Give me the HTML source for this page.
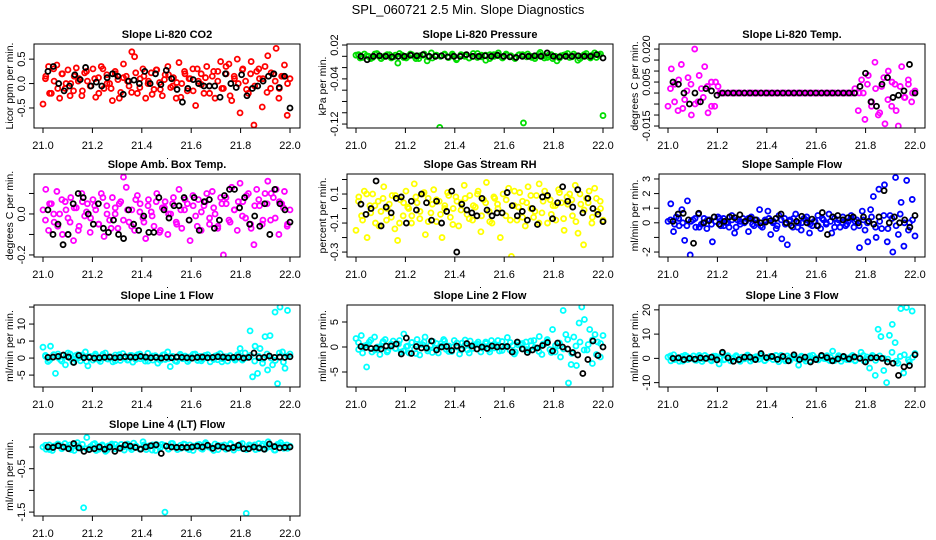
<!DOCTYPE html>
<html><head><meta charset="utf-8"><style>
html,body{margin:0;padding:0;background:#fff;}
svg{display:block;font-family:"Liberation Sans",Arial,sans-serif;}
</style></head><body>
<svg id="chart" width="936" height="540" viewBox="0 0 936 540">
<rect x="0" y="0" width="936" height="540" fill="#fff"/>
<text x="468" y="14" text-anchor="middle" font-size="13">SPL_060721  2.5 Min. Slope Diagnostics</text>
</svg>
<script>
const xTicks=[21.0,21.2,21.4,21.6,21.8,22.0];
const xTickLabels=["21.0","21.2","21.4","21.6","21.8","22.0"];
const titles=["Slope Li-820 CO2","Slope Li-820 Pressure","Slope Li-820 Temp.","Slope Amb. Box Temp.","Slope Gas Stream RH","Slope Sample Flow","Slope Line 1 Flow","Slope Line 2 Flow","Slope Line 3 Flow","Slope Line 4 (LT) Flow"];
const yTitles=["Licor ppm per min.","kPa per min.","degrees C per min.","degrees C per min.","percent per min.","ml/min per min.","ml/min per min.","ml/min per min.","ml/min per min.","ml/min per min."];
const yDomains=[[-0.91,0.81],[-0.127,0.0218],[-0.0159,0.0223],[-0.21,0.195],[-0.334,0.238],[-2.34,3.34],[-8.5,15.6],[-8.0,8.4],[-11.8,22],[-1.59,0.3]];
const yTicks=[[-0.5,0,0.5],[0.02,0,-0.02,-0.04,-0.06,-0.08,-0.1,-0.12],[0.02,0.015,0.01,0.005,0,-0.005,-0.01,-0.015],[0.1,0,-0.1,-0.2],[0.2,0.1,0,-0.1,-0.2,-0.3],[3,2,1,0,-1,-2],[15,10,5,0,-5],[5,0,-5],[20,10,0,-10],[0,-0.5,-1,-1.5]];
const yTickLabels=[["-0.5","0.0","0.5"],["0.02","","","-0.04","","","","-0.12"],["0.020","","","0.005","","","","-0.015"],["","0.0","","-0.2"],["","0.1","","-0.1","","-0.3"],["3","2","1","0","","-2"],["","10","5","0","-5"],["5","0","-5"],["20","10","0","-10"],["","-0.5","","-1.5"]];
const colors=["#ff0000","#00dd00","#ff00ff","#ff00ff","#ffff00","#0000ff","#00ffff","#00ffff","#00ffff","#00ffff"];
const p1Main=[-0.42,0.15,0.35,-0.2,0.05,0.38,-0.3,0.2,-0.1,0.28,0.0,-0.15,0.32,0.1,-0.25,0.22,0.05,-0.05,0.3,-0.28,0.12,0.35,-0.1,0.18,0.0,-0.35,0.25,0.08,-0.18,0.4,0.15,-0.05,0.65,0.55,-0.2,0.1,0.3,-0.3,0.05,0.22,-0.12,0.28,0.02,-0.25,0.18,0.35,-0.08,0.12,-0.3,0.43,0.0,0.25,-0.15,0.1,0.3,-0.45,0.05,0.2,-0.2,0.35,-0.05,0.15,-0.3,0.25,0.45,-0.1,0.2,0.4,-0.35,0.1,0.5,-0.6,0.3,0.05,-0.2,0.45,-0.85,0.25,0.1,-0.48,0.35,0.57,-0.1,0.2,0.72,-0.3,0.15,0.38,-0.65,0.1];
const p1Extra=[0.1,-0.2,0.3,-0.1,0.2,0.0,-0.25,0.15,0.05,-0.15,0.25,-0.05,0.1,-0.2,0.3,0.0,-0.1,0.2,-0.3,0.12,0.05,-0.18,0.22,-0.08,0.15,0.0,-0.22,0.28,-0.12,0.08,0.18,-0.05,0.02,-0.28,0.2,0.1,-0.15,0.3,-0.02,0.12,-0.2,0.25,0.05,-0.1,0.35,-0.25,0.15,0.0,0.28,-0.12,0.2,-0.05,0.3,0.1,-0.18,0.22,0.05,-0.1,0.15,0.0];
const p1Black=[0.25,0.35,0.0,-0.15,-0.05,0.18,0.08,0.33,-0.05,0.03,-0.05,0.12,0.2,0.15,-0.22,0.05,0.07,0.0,0.25,0.0,0.2,-0.02,0.27,0.1,-0.12,-0.38,-0.1,0.08,0.0,-0.05,-0.05,-0.05,-0.28,0.2,0.0,-0.08,0.18,-0.25,-0.1,-0.05,0.05,0.15,0.2,-0.08,0.15,-0.5];
const p2Main=[0.002,-0.003,0.004,0.0,-0.002,0.005,-0.004,0.001,0.003,-0.001,-0.012,0.002,-0.003,0.004,0.0,-0.004,0.002,-0.008,0.006,0.001,-0.126,0.003,-0.002,0.004,-0.006,0.001,0.0,-0.003,0.005,-0.002,0.002,-0.007,0.003,0.0,0.006,-0.003,0.002,0.001,-0.004,0.003,-0.118,0.004,-0.002,0.0,0.007,-0.003,0.002,-0.004,-0.008,0.001,0.003,-0.002,0.004,-0.007,0.0,0.005,-0.003,0.006,0.002,-0.105];
const p2Extra=[0.003,-0.002,0.001,-0.004,0.004,0.0,-0.001,0.003,-0.003,0.002,0.005,-0.002,0.0,0.003,-0.004,0.001,0.004,-0.001,-0.003,0.002,0.0,0.004,-0.002,0.001,-0.004,0.003,0.002,-0.003,0.0,0.005,-0.001,0.002,-0.004,0.003,0.001,-0.002,0.004,0.0,-0.003,0.002,0.003,-0.001,0.0,-0.004,0.004,0.001,-0.002,0.003,0.0,-0.003,0.002,0.005,-0.001,0.001,-0.004,0.003,0.0,0.002,-0.002,0.004];
const p2Black=[0.0,-0.006,0.0,0.001,0.0,-0.001,0.0,0.0,0.002,0.001,0.003,0.0,0.0,0.001,-0.001,0.0,0.0,0.003,0.0,0.0,0.001,0.0,0.002,0.0,-0.001,-0.002,0.0,0.0,0.001,0.0,0.006,0.0,-0.001,0.0,0.0,0.001,0.0,0.0,0.003,-0.003];
const p3Main=[-0.006,0.011,0.004,-0.008,0.013,-0.003,0.007,-0.010,0.020,-0.004,0.002,0.012,-0.009,0.005,-0.006,0.003,0,0,0,0,0,0,0,0,0,0,0,0,0,0,0,0,0,0,0,0,0,0,0,0,0,0,0,0,0,0,0,0,0,0,0,0,0,0,0,0,0.002,-0.008,0.006,-0.012,0.008,-0.004,0.014,-0.010,0.003,-0.014,0.010,-0.006,0.004,-0.015,0.012,-0.002,0.006,-0.004,0.001];
const p3Extra=[0.002,-0.004,0.006,-0.007,0.001,0.004,-0.005,0.008,-0.002,0.003,-0.006,0.005,0,0,0,0,0,0,0,0,0,0,0,0,0,0,0,0,0,0,0,0,0,0,0,0,0,0,0,0,0,0,0,0,0,0,0,0,0.004,-0.006,0.002,-0.009,0.007,-0.003,0.005,-0.008,0.003,-0.002,0.004,0.0];
const p3Black=[0.005,0.004,0.0,-0.005,0.0,-0.004,0.002,0.001,-0.001,0,0,0,0,0,0,0,0,0,0,0,0,0,0,0,0,0,0,0,0,0,0,0,0,0,0.003,0.009,-0.004,-0.006,0.004,0.007,-0.002,-0.001,0.001,0.013,0.0];
const p4Main=[0.02,0.12,-0.08,0.05,-0.04,0.11,0.0,-0.1,0.06,-0.02,0.08,-0.13,0.03,-0.06,0.1,-0.01,0.05,-0.09,0.07,0.02,-0.05,0.1,-0.11,0.04,-0.03,0.08,0.0,-0.07,0.06,0.18,0.13,-0.04,0.02,-0.08,0.09,0.05,-0.02,-0.12,0.07,0.01,-0.06,0.1,-0.09,0.03,0.06,-0.1,0.0,0.08,-0.04,0.12,-0.07,0.02,0.05,-0.13,0.09,-0.01,0.07,-0.08,0.04,0.1,-0.05,0.11,0.0,-0.06,0.08,-0.2,0.05,-0.03,0.13,0.02,-0.08,0.15,0.06,-0.02,0.1,-0.07,-0.15,0.12,0.04,-0.05,0.1,0.16,-0.03,0.08,0.12,-0.1,0.05,0.11,-0.06,0.02];
const p4Extra=[-0.03,0.05,0.0,-0.06,0.07,0.02,-0.04,0.03,-0.08,0.06,0.01,-0.02,0.04,-0.05,0.08,0.0,-0.07,0.03,0.05,-0.03,0.02,-0.06,0.07,0.01,-0.04,0.04,-0.01,0.06,-0.08,0.03,0.0,0.05,-0.05,0.02,0.07,-0.03,0.04,-0.06,0.01,0.06,-0.02,0.03,-0.07,0.05,0.08,-0.04,0.02,0.06,-0.01,0.09,-0.05,0.04,0.07,-0.03,0.05,0.1,-0.02,0.06,0.03,-0.05];
const p4Black=[0.02,-0.1,-0.05,-0.15,-0.1,0.05,0.1,0.08,0.0,-0.05,0.05,-0.07,-0.09,-0.03,-0.1,-0.12,0.02,-0.05,-0.08,-0.01,-0.09,-0.09,0.08,0.02,-0.02,0.04,0.04,0.08,-0.03,0.08,-0.08,0.06,0.07,-0.07,-0.03,0.09,0.12,0.12,0.03,0.08,-0.05,-0.01,-0.06,0.05,-0.1,0.12,0.05,0.02,-0.04];
const p5Main=[-0.15,0.08,-0.05,0.12,-0.2,0.02,0.1,-0.1,0.05,-0.02,0.15,-0.08,0.03,0.09,-0.14,-0.22,0.06,-0.05,0.12,0.0,-0.1,0.17,0.04,-0.07,0.1,-0.18,0.07,-0.03,0.13,-0.09,0.05,-0.2,0.02,0.11,-0.06,0.0,0.08,-0.12,0.04,0.16,-0.04,0.09,-0.08,0.01,0.12,-0.16,0.06,0.18,-0.02,-0.1,0.07,0.03,-0.2,0.1,-0.05,0.14,-0.33,0.02,-0.08,0.11,0.05,-0.12,0.15,0.0,-0.06,0.09,0.17,-0.03,0.12,-0.1,0.06,0.02,-0.08,0.13,0.04,-0.15,0.08,0.1,-0.05,0.16,-0.17,0.03,-0.25,0.07,0.12,-0.1,0.14,-0.02,0.05,-0.08];
const p5Extra=[0.05,-0.08,0.1,-0.03,0.02,-0.12,0.07,0.0,-0.06,0.09,-0.1,0.04,0.01,-0.05,0.08,-0.02,0.11,-0.09,0.03,0.06,-0.04,0.0,0.09,-0.11,0.05,-0.01,0.07,-0.07,0.02,0.1,-0.05,0.04,-0.09,0.08,0.0,-0.03,0.06,-0.08,0.12,0.01,-0.06,0.04,0.09,-0.02,-0.1,0.05,0.08,-0.04,0.02,0.11,-0.07,0.03,0.06,-0.09,0.1,-0.01,0.04,-0.06,0.07,0.0];
const p5Black=[0.03,-0.04,0.0,0.19,-0.12,0.01,-0.03,0.07,0.08,-0.1,0.05,-0.01,0.1,0.04,-0.08,0.05,-0.1,-0.02,0.12,-0.3,0.03,-0.01,-0.03,-0.05,0.07,-0.01,-0.05,-0.03,-0.03,0.11,0.02,-0.05,-0.02,-0.08,0.0,-0.11,0.08,0.09,-0.07,0.04,0.15,0.05,0.01,0.13,-0.03,0.07,0.0,-0.04,-0.09];
const p6Main=[0.1,1.3,-0.6,0.4,-0.2,0.9,-1.2,1.5,-2.2,0.2,-0.3,0.6,-0.1,0.3,-0.4,0.2,-1.3,0.1,0.4,-0.2,0.3,0.0,-0.3,0.5,-0.7,0.2,-0.1,0.3,0.1,-0.6,0.4,-0.2,0.0,0.9,-0.3,0.2,0.8,-0.8,0.1,-0.4,0.5,-1.1,0.3,-1.5,0.2,-0.3,0.6,0.0,-0.5,0.3,0.4,-0.7,-0.2,0.1,0.5,-0.4,0.2,-0.1,0.6,-0.7,0.3,0.0,-0.3,0.4,-0.2,0.1,0.5,-0.3,0.2,-1.7,0.8,-0.5,-1.3,0.9,1.8,-1.0,2.3,-0.4,2.6,-1.3,0.5,-2.0,3.1,-0.8,1.4,-1.6,2.9,0.0,1.6,-0.9];
const p6Extra=[0.2,-0.1,0.3,0.0,-0.2,0.1,0.3,-0.3,0.0,0.2,-0.1,0.1,0.3,-0.2,0.0,0.2,-0.3,0.1,0.0,0.3,-0.1,0.2,-0.2,0.1,0.3,0.0,-0.2,0.2,-0.1,0.1,0.3,-0.3,0.0,0.2,-0.1,0.1,-0.2,0.3,0.0,0.1,-0.3,0.2,0.0,-0.1,0.3,0.1,-0.2,0.2,0.0,0.4,-0.3,0.1,0.5,-0.4,0.3,-0.2,0.6,0.0,-0.5,0.2];
const p6Black=[0.1,0.6,0.65,0.2,-1.4,0.65,0.0,0.15,0.4,-0.1,0.1,0.4,0.35,0.55,0.1,0.3,0.2,0.0,0.05,0.15,0.3,0.6,0.0,-0.2,0.1,0.45,0.0,0.25,-0.2,0.7,-0.8,0.4,0.5,0.2,0.35,0.4,0.0,0.4,0.1,-0.1,0.4,2.2,0.0,0.4,0.0,0.2,-0.3,0.5];
const p7Main=[3.2,0.5,-1.0,3.5,0.2,-4.5,1.2,-0.5,0.8,-2.0,1.5,0.0,-1.2,0.7,1.0,-0.8,0.3,1.8,-2.3,0.5,-0.6,1.2,0.0,-1.0,0.8,1.5,-0.3,0.2,-1.1,0.9,0.4,-0.7,1.3,0.0,-0.5,0.8,-1.2,0.6,1.0,-0.2,0.3,-0.9,1.4,0.1,-0.6,0.7,-1.5,0.2,0.9,-0.4,1.8,-2.5,0.5,-0.8,0.3,1.1,-0.2,0.6,-1.0,0.4,0.0,1.2,-0.7,0.5,-0.3,0.8,1.0,-1.1,0.2,0.6,-0.5,1.3,-0.2,0.4,-0.9,0.7,0.1,-0.6,1.0,2.8,-0.4,1.5,0.3,8.0,-5.5,3.5,-4.5,2.8,-1.5,6.3,-3.5,6.6,-2.0,13.5,-7.5,15.0,1.8,-3.0,14.0,1.2];
const p7Extra=[0.8,-0.6,1.0,0.2,-0.9,0.5,1.2,-0.3,0.0,0.9,-1.0,0.4,0.7,-0.5,1.1,-0.2,0.3,-0.8,1.0,0.1,-0.6,0.8,-0.4,1.2,0.0,-0.9,0.6,0.2,-0.7,1.0,-0.1,0.5,-1.0,0.8,0.3,-0.5,1.1,0.0,-0.8,0.6,0.2,-0.4,0.9,-1.1,0.4,0.7,-0.2,1.0,-0.6,0.1,0.8,-0.9,0.5,-0.3,1.2,0.0,-0.7,1.5,-1.2,0.6];
const p7Black=[0.2,0.3,0.5,0.9,0.3,-1.3,0.8,0.1,0.2,0.0,0.1,0.2,0.3,0.1,0.2,0.4,0.3,0.2,0.5,0.3,0.1,0.2,0.0,0.2,0.1,0.3,0.2,0.1,0.0,0.2,0.3,0.1,0.2,0.4,0.3,0.1,0.2,0.3,0.0,0.2,1.5,0.1,0.2,0.6,0.2,0.3,0.2,0.4];
const p8Main=[1.7,-0.5,2.3,0.2,-4.0,1.0,-1.0,2.0,0.0,-1.5,0.8,1.5,-0.7,0.3,1.2,-0.3,0.6,-1.0,2.6,0.1,-1.2,0.9,-0.4,1.5,-1.6,0.5,2.0,-0.8,0.3,1.1,-0.2,-1.2,0.7,1.5,-0.5,0.2,-0.9,1.3,0.0,-1.4,0.8,0.4,-0.6,1.2,-0.3,0.5,1.0,-1.0,0.2,0.7,-0.5,1.3,-0.2,0.4,-0.8,1.1,0.0,1.9,-0.6,0.3,-1.0,0.9,0.5,-0.4,1.0,-0.7,0.3,1.3,-0.2,2.1,-1.5,0.6,1.5,-0.5,3.5,-1.0,0.2,-2.0,7.3,2.5,-7.2,-3.5,2.0,-3.7,4.8,8.0,5.5,-0.6,3.5,-3.3,2.5,1.0,-2.0,2.3];
const p8Extra=[0.9,-1.2,0.4,1.4,-0.6,0.0,1.1,-1.0,0.6,-0.3,1.3,-0.8,0.2,0.9,-1.3,0.5,1.0,-0.4,-1.1,0.7,0.2,1.2,-0.9,0.0,0.8,-0.6,1.4,-1.2,0.3,0.6,-0.2,1.0,-1.0,0.5,1.3,-0.7,0.1,0.9,-1.4,0.4,0.7,-0.5,1.2,-0.1,-0.9,0.6,1.1,-1.1,0.3,0.8,-0.4,1.5,-1.3,0.2,1.0,-0.6,0.5,1.4,-1.5,0.7];
const p8Black=[0.1,-0.1,-0.3,-0.2,-0.4,0.2,0.2,0.6,-1.4,1.8,-1.3,0.1,-0.2,-0.2,1.2,-0.6,0.0,0.1,-0.7,0.2,-0.4,0.7,0.2,-0.4,0.0,-0.3,0.2,0.0,0.1,0.1,-1.0,1.0,-0.4,-1.1,-0.6,-0.2,0.3,0.9,-0.8,0.8,0.0,-0.4,-1.1,-1.6,-5.3,-2.5,1.2,-1.7,0.0];
const p9Main=[0.5,-1.0,1.5,0.0,-1.2,0.8,1.3,-0.5,0.2,1.0,-0.8,0.4,-1.3,1.2,0.0,-0.6,0.9,0.3,-2.3,1.8,-0.4,0.6,-1.0,0.2,1.1,-0.7,0.5,-0.2,1.4,-1.1,0.3,0.7,-0.4,1.6,-0.9,0.0,0.8,-0.5,1.2,-1.4,0.4,-0.2,1.0,-0.8,0.6,0.1,-2.8,0.9,-0.3,0.5,-1.0,1.3,0.2,-0.6,0.8,-0.1,1.1,-0.9,3.0,-0.4,0.5,-1.2,0.7,0.1,-0.5,1.2,-0.8,0.3,2.5,-1.0,0.6,-4.0,1.2,-7.0,12.0,9.0,-5.0,-10.0,9.5,14.0,6.5,-2.0,20.5,-6.0,21.0,-1.5,19.5,2.0];
const p9Extra=[1.0,-0.5,0.3,-1.1,0.8,0.0,-0.7,1.2,-0.3,0.5,-1.0,0.9,0.1,-0.6,1.1,-0.2,0.6,-1.2,0.4,0.9,-0.4,0.0,1.0,-0.9,0.3,0.7,-0.5,1.2,-1.0,0.2,0.8,-0.3,0.5,-1.1,1.0,0.0,-0.6,0.9,-0.2,0.4,-0.9,1.1,0.1,-0.5,0.7,-1.0,0.3,1.2,-0.4,0.6,-0.8,1.0,0.0,-0.3,2.5,-1.2,0.8,1.5,-0.6,0.4];
const p9Black=[0.0,0.2,-0.5,0.0,-0.3,0.2,0.0,0.5,-0.6,2.5,0.2,-1.2,-0.5,0.5,0.5,-0.5,2.0,0.3,0.8,-0.4,0.8,-1.0,1.5,-0.5,0.5,-1.5,-0.5,1.2,0.3,-1.0,-0.2,0.8,-0.2,0.6,0.0,-1.5,0.2,0.3,0.0,-1.5,-2.0,-7.0,-3.5,-3.0,1.5];
const p10Main=[0.0,-0.05,0.05,-0.08,0.03,0.06,-0.04,0.08,0.0,-0.06,0.04,0.1,-0.03,-1.4,0.22,-0.05,0.06,-0.08,0.02,0.05,-0.1,0.03,0.07,-0.04,0.0,0.06,-0.07,0.04,-0.02,0.09,0.0,-0.05,0.12,-0.06,0.03,0.05,-0.08,0.02,0.06,-1.5,-0.04,0.08,0.0,-0.06,0.04,0.07,-0.03,0.05,-0.08,0.02,0.06,-0.05,0.1,0.0,-0.04,0.07,-0.06,0.03,0.05,-0.02,0.08,-0.07,0.02,0.06,-0.04,-1.53,0.05,0.0,-0.06,0.08,0.03,-0.05,0.12,0.0,-0.07,0.06,0.1,-0.03,0.05,0.02];
const p10Extra=[0.04,-0.06,0.02,0.07,-0.03,0.0,0.05,-0.08,0.03,0.06,-0.04,0.01,0.08,-0.05,0.02,-0.07,0.04,0.06,-0.02,0.0,0.07,-0.06,0.03,-0.04,0.05,0.01,-0.07,0.06,-0.01,0.04,-0.05,0.08,0.0,-0.03,0.06,-0.06,0.02,0.05,-0.04,0.07,0.01,-0.08,0.04,0.03,-0.05,0.06,0.0,-0.02,0.08,-0.06,0.03,0.05,-0.04,0.07,-0.01,0.02,-0.07,0.06,0.04,-0.03];
const p10Black=[0.0,-0.01,0.03,0.0,-0.04,0.08,-0.02,-0.1,-0.06,-0.04,0.0,-0.05,0.0,-0.1,-0.03,0.05,0.02,-0.01,-0.05,0.0,0.03,0.05,-0.15,0.02,0.0,-0.01,-0.01,-0.01,0.0,0.02,0.0,0.04,-0.03,0.02,0.0,-0.03,-0.01,0.04,-0.04,-0.04,0.0,-0.02,-0.05,0.07,0.01,-0.02,-0.01,0.0];
const mainSeries=[p1Main,p2Main,p3Main,p4Main,p5Main,p6Main,p7Main,p8Main,p9Main,p10Main];
const extraSeries=[p1Extra,p2Extra,p3Extra,p4Extra,p5Extra,p6Extra,p7Extra,p8Extra,p9Extra,p10Extra];
const blackSeries=[p1Black,p2Black,p3Black,p4Black,p5Black,p6Black,p7Black,p8Black,p9Black,p10Black];

const NS="http://www.w3.org/2000/svg";
const svg=document.getElementById('chart');
const colOff=[0,313,625];
const rowTop=[44,174,305,434];
const rowBot=[128,257,387,516];
function mk(tag,attrs,parent){const e=document.createElementNS(NS,tag);for(const k in attrs)e.setAttribute(k,attrs[k]);(parent||svg).appendChild(e);return e;}

for(let p=0;p<10;p++){
  const col=p%3,row=Math.floor(p/3);
  const off=colOff[col],top=rowTop[row],bot=rowBot[row];
  const g=mk('g',{});
  
  
  const xs=v=>off+43+(v-21)*247;
  const [y0,y1]=yDomains[p];
  const ys=v=>bot-(v-y0)/(y1-y0)*(bot-top);
  const clip=mk('clipPath',{id:'c'+p},g);
  mk('rect',{x:off+34,y:top,width:266,height:bot-top},clip);
  const t=mk('text',{x:off+167,y:top-6,'text-anchor':'middle','font-size':'11','font-weight':'bold'},g);
  t.textContent=titles[p];
  
  
  const yt=mk('text',{x:off+10,y:(top+bot)/2,'text-anchor':'middle','dominant-baseline':'central','font-size':'10.5',transform:`rotate(-90 ${off+10} ${(top+bot)/2})`},g);
  yt.textContent=yTitles[p];
  
  
  xTicks.forEach((v,i)=>{
    mk('line',{x1:xs(v),x2:xs(v),y1:bot,y2:bot+5,stroke:'#000','stroke-width':1},g);
    const l=mk('text',{x:xs(v),y:bot+21,'text-anchor':'middle','font-size':'11'},g);
    l.textContent=xTickLabels[i];
    
    
  });
  mk('rect',{x:off+167,y:bot+30,width:1,height:1,fill:'#000'},g);
  yTicks[p].forEach((v,i)=>{
    const y=ys(v);
    mk('line',{x1:off+29,x2:off+34,y1:y,y2:y,stroke:'#000','stroke-width':1},g);
    if(yTickLabels[p][i]){
      const l=mk('text',{x:off+22,y:y,'text-anchor':'middle','dominant-baseline':'central','font-size':'11',transform:`rotate(-90 ${off+22} ${y})`},g);
      l.textContent=yTickLabels[p][i];
      
      
    }
  });
  const pts=mk('g',{'clip-path':`url(#c${p})`},g);
  const m=mainSeries[p];
  m.forEach((v,i)=>{
    const c=mk('circle',{cx:xs(21+i/(m.length-1)),cy:ys(v),r:2.5,fill:'none',stroke:colors[p],'stroke-width':1.8},pts);
    
    
  });
  const e=extraSeries[p];
  e.forEach((v,i)=>{
    const c=mk('circle',{cx:xs(21.01+0.98*i/(e.length-1)),cy:ys(v),r:2.5,fill:'none',stroke:colors[p],'stroke-width':1.8},pts);
    
    
  });
  const b=blackSeries[p];
  b.forEach((v,i)=>{
    const c=mk('circle',{cx:xs(21.02+0.98*i/(b.length-1)),cy:ys(v),r:2.5,fill:'none',stroke:'#000','stroke-width':1.8},pts);
    
    
  });
  const box=mk('rect',{x:off+34,y:top,width:266,height:bot-top,fill:'none',stroke:'#000','stroke-width':1},g);
  
  
}
</script>
</body></html>
